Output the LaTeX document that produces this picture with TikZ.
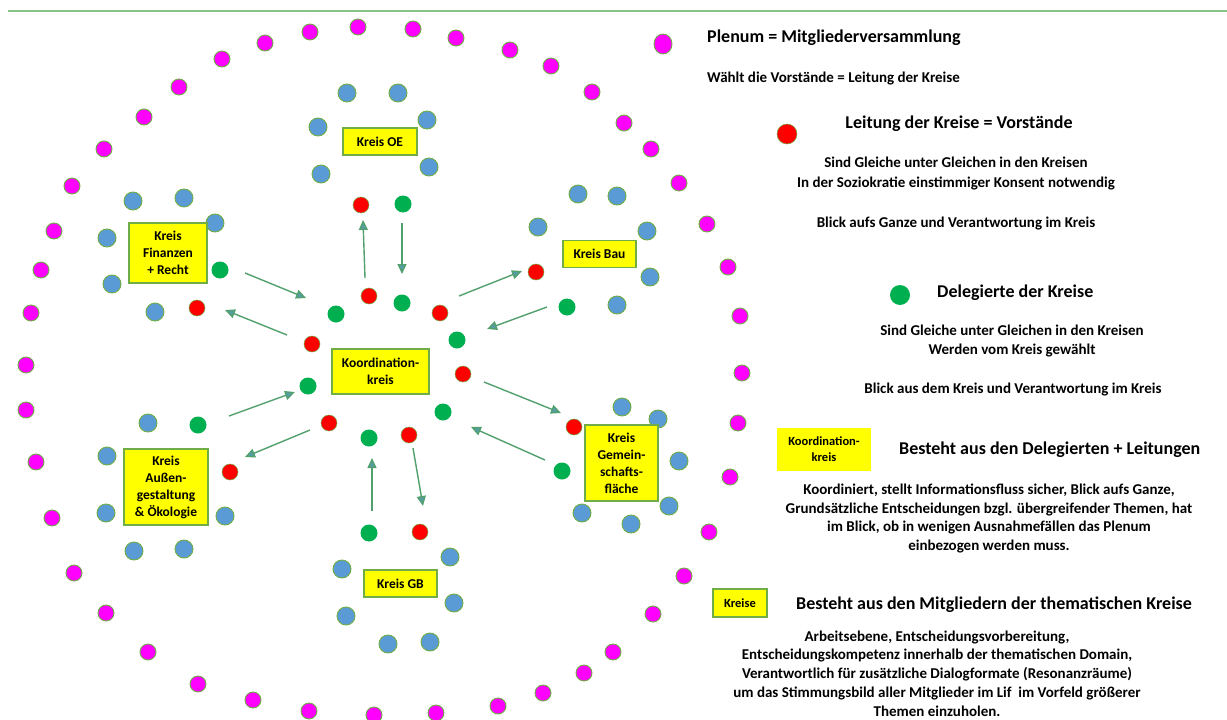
\documentclass[tikz,border=0pt]{standalone}
\usepackage{fontspec}
\setmainfont{Carlito}
\usetikzlibrary{arrows.meta,shapes.geometric}
\definecolor{ogreen}{HTML}{70AD47}
\definecolor{dgreen}{HTML}{00B050}
\definecolor{oblue}{HTML}{5B9BD5}
\definecolor{mag}{HTML}{FF00FF}
\definecolor{ared}{HTML}{FF0000}
\definecolor{ayellow}{HTML}{FFFF00}
\definecolor{arrc}{HTML}{52A06E}
\definecolor{linec}{HTML}{86C286}
\tikzset{
  magdot/.style={circle, fill=mag, draw=ogreen, line width=0.9pt, minimum size=16pt, inner sep=0pt},
  bluedot/.style={circle, fill=oblue, draw=ogreen, line width=0.9pt, minimum size=18pt, inner sep=0pt},
  reddot/.style={circle, fill=ared, draw=ogreen, line width=0.5pt, minimum size=16pt, inner sep=0pt},
  grndot/.style={circle, fill=dgreen, minimum size=17pt, inner sep=0pt},
  kbox/.style={rectangle, fill=ayellow, draw=ogreen, line width=1.1pt, inner sep=0pt, align=center, font=\bfseries\fontsize{13.5}{17}\selectfont},
  flow/.style={draw=arrc, line width=1.4pt, -{Triangle[length=10pt, width=9pt, fill=oblue!55!arrc]}},
  txt/.style={font=\bfseries\fontsize{15}{17}\selectfont, inner sep=0pt},
  head/.style={font=\bfseries\fontsize{18}{20}\selectfont, inner sep=0pt},
}
\begin{document}
\begin{tikzpicture}[x=1pt,y=-1pt]
\useasboundingbox (0,0) rectangle (1227,720);
\fill[white] (0,0) rectangle (1227,720);
\coordinate (tl) at (8,11);
\coordinate (tr) at (1227,11);
\draw[linec, line width=1.2pt] (tl) -- (tr);
% outer plenum ring
\foreach \x/\y [count=\i] in {358/27, 413/29, 456/38, 510/50, 551/66, 592/92, 624/123, 651/149, 679/183, 707/224, 728/267, 740/316, 742/373, 738/423, 730/477, 709/532, 684/576, 653/614, 613/652, 584/673, 543/693, 498/706, 436/713, 374/715, 309/711, 253/700, 198/684, 148/652, 106/613, 74/573, 52/518, 36/462, 26/410, 26/365, 31/313, 41/270, 54/231, 72/186, 104/149, 144/117, 179/87, 222/59, 265/43, 310/32}
  \node[magdot] (m\i) at (\x,\y) {};
\node[ellipse, fill=mag, draw=ogreen, line width=0.9pt, inner sep=0pt, minimum width=18pt, minimum height=20pt] (mbig) at (663,44) {};
% blue members
\foreach \x/\y [count=\i] in {347/93, 398/93, 318/127, 427/120, 321/174, 429/167,
  578/194, 617/196, 538/227, 647/231, 650/277, 617/305,
  133/201, 184/198, 215/223, 107/238, 112/284, 155/312,
  148/423, 107/456, 106/513, 225/516, 134/551, 184/549,
  342/569, 450/557, 346/616, 454/603, 388/644, 430/642,
  622/407, 658/419, 679/461, 582/513, 631/524, 669/506}
  \node[bluedot] (b\i) at (\x,\y) {};
% red leaders
\foreach \x/\y [count=\i] in {361/205, 536/272, 197/308, 230/472, 420/532, 574/427,
  369/296, 440/313, 463/374, 409/435, 329/423, 312/344}
  \node[reddot] (r\i) at (\x,\y) {};
% green delegates
\foreach \x/\y [count=\i] in {403/204, 567/307, 220/270, 198/425, 369/533, 562/471,
  336/314, 402/303, 457/340, 443/412, 369/438, 308/386}
  \node[grndot] (g\i) at (\x,\y) {};
% circle boxes
\node[kbox, minimum width=74pt, minimum height=27pt] (koe) at (380,141.5) {Kreis OE};
\node[kbox, minimum width=73pt, minimum height=27pt] (kbau) at (599.5,254) {Kreis Bau};
\node[kbox, minimum width=78pt, minimum height=60pt] (kfin) at (168,253) {Kreis\\Finanzen\\+ Recht};
\node[kbox, minimum width=97pt, minimum height=45pt] (kkoord) at (380.5,371.5) {Koordination-\\kreis};
\node[kbox, minimum width=84pt, minimum height=76pt] (kaus) at (166,487) {Kreis\\Außen-\\gestaltung\\\& Ökologie};
\node[kbox, minimum width=73pt, minimum height=27pt] (kgb) at (400.5,583.5) {Kreis GB};
\node[kbox, minimum width=73pt, minimum height=76pt] (kgem) at (621.5,463) {Kreis\\Gemein-\\schafts-\\fläche};
% arrows
\foreach \sx/\sy/\ex/\ey [count=\i] in {245/273/306/298, 287/335/225/310, 365/278/363/220, 402/223/402/274,
  459/296/522/271, 547/307/487/329, 484/382/561/413, 545/460/471/427,
  372/511/372/458, 413/448/423/506, 229/416/295/392, 310/430/245/457}
{
  \coordinate (as\i) at (\sx,\sy);
  \coordinate (ae\i) at (\ex,\ey);
  \draw[flow] (as\i) -- (ae\i);
}
% legend
\node[head, anchor=west] (t1) at (707,38) {Plenum = Mitgliederversammlung};
\node[txt, anchor=west] (t2) at (707,79) {Wählt die Vorstände = Leitung der Kreise};
\node[reddot, minimum size=20pt] (lr) at (787,134) {};
\node[head] (t3) at (959,124) {Leitung der Kreise = Vorstände};
\node[txt, align=center, font=\bfseries\fontsize{15}{20}\selectfont] (t4) at (956,174) {Sind Gleiche unter Gleichen in den Kreisen\\In der Soziokratie einstimmiger Konsent notwendig};
\node[txt] (t5) at (956,224) {Blick aufs Ganze und Verantwortung im Kreis};
\node[grndot, minimum size=20pt] (lg) at (900,295) {};
\node[head, anchor=west] (t6) at (937,293) {Delegierte der Kreise};
\node[txt, align=center, font=\bfseries\fontsize{15}{19}\selectfont] (t7) at (1012,341.5) {Sind Gleiche unter Gleichen in den Kreisen\\Werden vom Kreis gewählt};
\node[txt] (t8) at (1013,390) {Blick aus dem Kreis und Verantwortung im Kreis};
\node[rectangle, fill=ayellow, inner sep=0pt, minimum width=94pt, minimum height=43pt, align=center, font=\bfseries\fontsize{12.5}{16}\selectfont] (lk) at (824,449.5) {Koordination-\\kreis};
\node[head, anchor=west] (t9) at (899,450) {Besteht aus den Delegierten + Leitungen};
\node[txt, align=center, font=\bfseries\fontsize{15}{18.7}\selectfont] (t10) at (989,518.5) {Koordiniert, stellt Informationsfluss sicher, Blick aufs Ganze,\\Grundsätzliche Entscheidungen bzgl. übergreifender Themen, hat\\im Blick, ob in wenigen Ausnahmefällen das Plenum\\einbezogen werden muss.};
\node[kbox, minimum width=54pt, minimum height=28pt, font=\bfseries\fontsize{12.5}{14}\selectfont] (lkr) at (740,603) {Kreise};
\node[head, anchor=west] (t11) at (796,605) {Besteht aus den Mitgliedern der thematischen Kreise};
\node[txt, align=center, font=\bfseries\fontsize{15}{18.8}\selectfont] (t12) at (937,673.5) {Arbeitsebene, Entscheidungsvorbereitung,\\Entscheidungskompetenz innerhalb der thematischen Domain,\\Verantwortlich für zusätzliche Dialogformate (Resonanzräume)\\um das Stimmungsbild aller Mitglieder im Lif\ \ im Vorfeld größerer\\Themen einzuholen.};
\end{tikzpicture}
\end{document}
